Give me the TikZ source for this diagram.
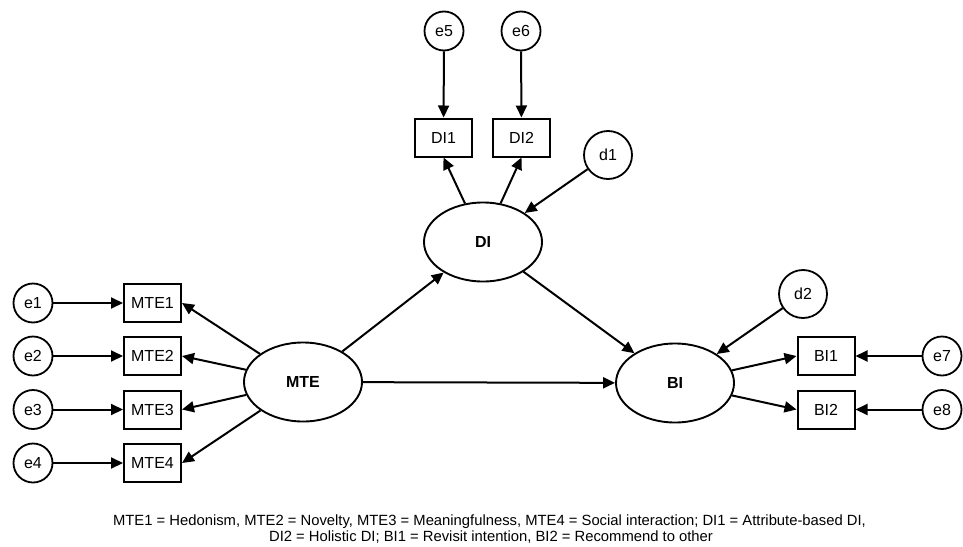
\documentclass[tikz,border=0pt]{standalone}
\usepackage{fontspec}
\setmainfont{Liberation Sans}
\usetikzlibrary{arrows.meta,shapes.geometric}
\begin{document}
\begin{tikzpicture}[x=1pt,y=-1pt,
  lbl/.style={font=\fontsize{16}{19}\selectfont},
  obs/.style={lbl,draw,line width=2pt,minimum width=57pt,minimum height=38pt,inner sep=0pt},
  lat/.style={font=\fontsize{16}{19}\selectfont\bfseries,draw,line width=1.9pt,ellipse,minimum width=118pt,minimum height=79pt,inner sep=0pt},
  err/.style={lbl,draw,line width=1.8pt,circle,minimum size=39pt,inner sep=0pt},
  dist/.style={lbl,draw,line width=1.8pt,circle,minimum size=48pt,inner sep=0pt},
  link/.style={line width=2pt,-{Triangle[length=12pt,width=11pt]}},
  captext/.style={font=\fontsize{14.8}{17}\selectfont,anchor=base,inner sep=0pt}
]
\useasboundingbox (0,0) rectangle (963,546);

% latent constructs
\node[lat] (mte) at (303,382) {MTE};
\node[lat] (di)  at (483,242) {DI};
\node[lat] (bi)  at (675,383) {BI};

% indicators of MTE and their errors
\foreach \i/\y in {1/303,2/356,3/409.5,4/463}{
  \node[obs] (mte\i) at (152.5,\y) {MTE\i};
  \node[err] (e\i) at (33,\y) {e\i};
  \draw[link] (e\i) -- (mte\i);
  \draw[link] (mte) -- (mte\i.east);
}

% indicators of DI
\node[obs] (di1) at (443.5,137.5) {DI1};
\node[obs] (di2) at (521.5,137.5) {DI2};
\node[err] (e5) at (444,31) {e5};
\node[err] (e6) at (521,31) {e6};
\node[dist] (d1) at (608,155) {d1};
\draw[link] (e5) -- (di1);
\draw[link] (e6) -- (di2);
\draw[link] (di) -- (di1.south);
\draw[link] (di) -- (di2.south);
\draw[link] (d1) -- (di);

% indicators of BI
\node[obs] (bi1) at (826,356) {BI1};
\node[obs] (bi2) at (826,409.5) {BI2};
\node[err] (e7) at (942,356) {e7};
\node[err] (e8) at (942,409.5) {e8};
\node[dist] (d2) at (803,294) {d2};
\draw[link] (e7) -- (bi1);
\draw[link] (e8) -- (bi2);
\draw[link] (bi) -- (bi1.west);
\draw[link] (bi) -- (bi2.west);
\draw[link] (d2) -- (bi);

% structural paths
\draw[link] (mte) -- (di);
\draw[link] (di) -- (bi);
\draw[link] (mte) -- (bi);

% legend
\node[captext] (cap1) at (489.5,525) {MTE1 = Hedonism, MTE2 = Novelty, MTE3 = Meaningfulness, MTE4 = Social interaction; DI1 = Attribute-based DI,};
\node[captext] (cap2) at (491,541.5) {DI2 = Holistic DI; BI1 = Revisit intention, BI2 = Recommend to other};
\end{tikzpicture}
\end{document}
